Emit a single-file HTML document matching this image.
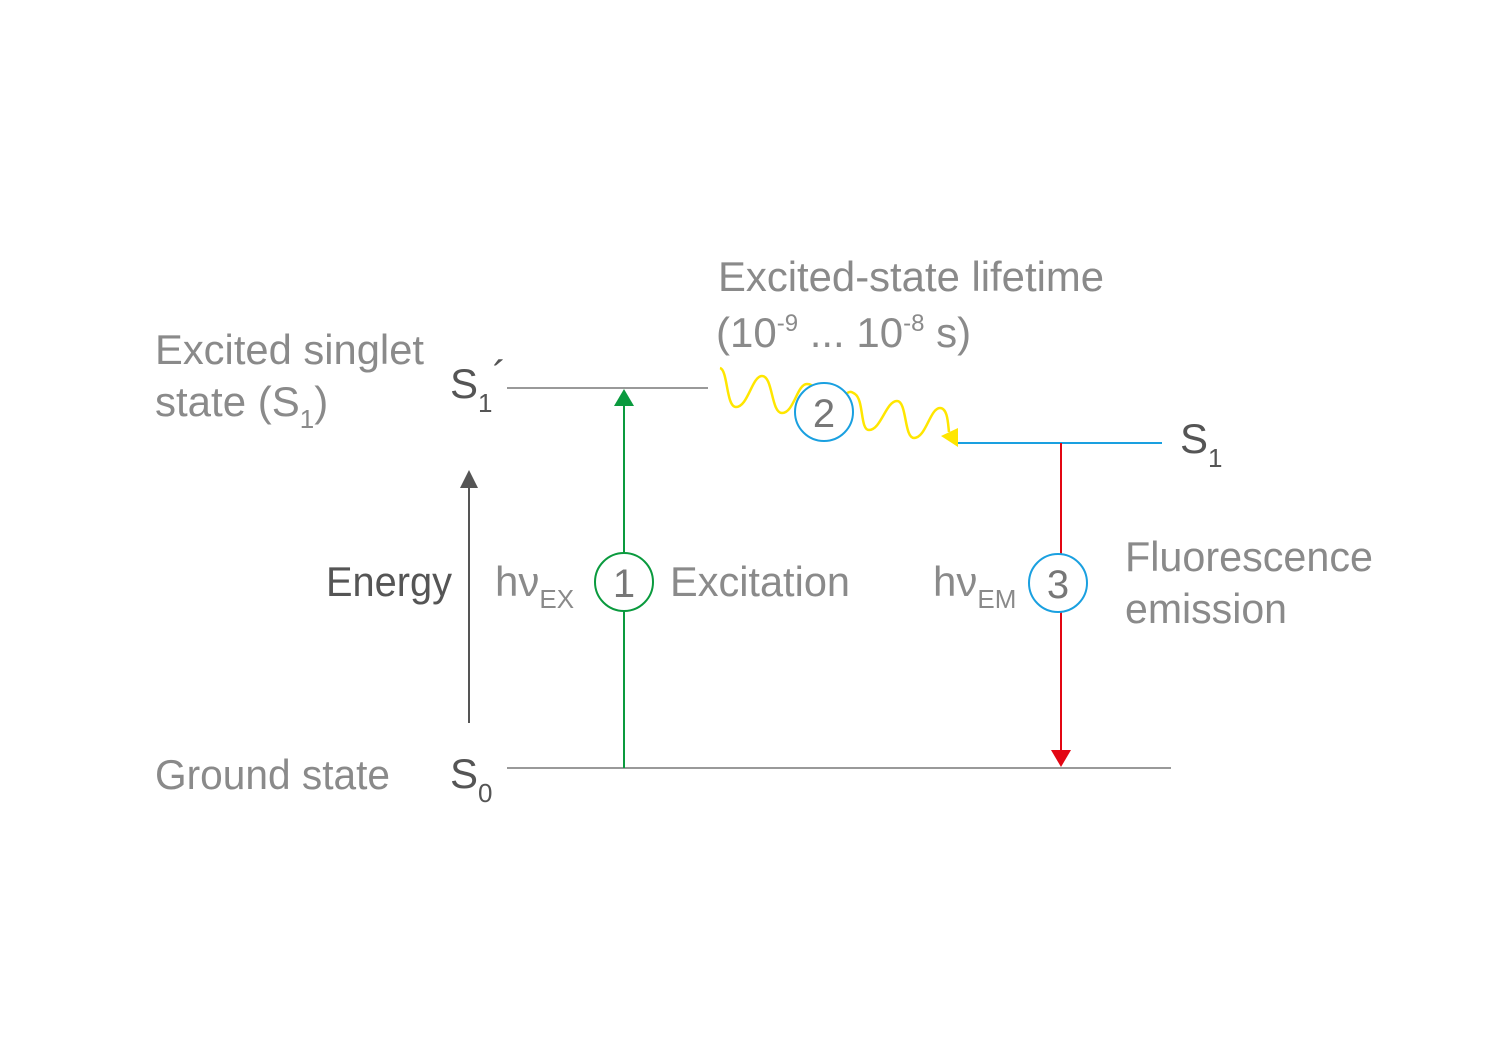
<!DOCTYPE html>
<html><head><meta charset="utf-8"><style>
html,body{margin:0;padding:0;background:#fff;}
svg{display:block}
text{font-family:"Liberation Sans Narrow","Liberation Sans",sans-serif;}
</style></head><body>
<svg width="1500" height="1060" viewBox="0 0 1500 1060" xmlns="http://www.w3.org/2000/svg">
<rect width="1500" height="1060" fill="#fff"/>
<line x1="507" y1="388" x2="708" y2="388" stroke="#999" stroke-width="2"/>
<line x1="507" y1="768" x2="1171" y2="768" stroke="#999" stroke-width="2"/>
<line x1="958" y1="443" x2="1162" y2="443" stroke="#1aa0e0" stroke-width="2"/>
<line x1="469" y1="723" x2="469" y2="485" stroke="#555" stroke-width="2"/>
<polygon points="469,470 460,488 478,488" fill="#555"/>
<line x1="624" y1="768" x2="624" y2="404" stroke="#0a9a3e" stroke-width="2"/>
<polygon points="624,389 614,406 634,406" fill="#0a9a3e"/>
<circle cx="624" cy="582" r="29" fill="#fff" stroke="#0a9a3e" stroke-width="2"/>
<text x="624" y="597" font-size="40" fill="#777" text-anchor="middle">1</text>
<line x1="1061" y1="443" x2="1061" y2="752" stroke="#e30613" stroke-width="2"/>
<polygon points="1061,767 1051,750 1071,750" fill="#e30613"/>
<circle cx="1058" cy="583" r="29" fill="#fff" stroke="#1aa0e0" stroke-width="2"/>
<text x="1058" y="598" font-size="40" fill="#777" text-anchor="middle">3</text>
<path d="M720,368 C728,370 726,407 736,407 C748,407 752,376 762,376 C773,376 771,413 782,413 C794,413 797,384 807,384 C818,384 816,400 820,405
M845,395 C850,390 852,392 855,394 C864,400 860,430 869,430 C881,430 886,401 897,401 C907,401 904,438 914,438 C926,438 930,408 940,408 C948,408 948,425 949,432" fill="none" stroke="#ffe600" stroke-width="2.5"/>
<polygon points="941,436 958,428 958,447" fill="#ffe600"/>
<circle cx="824" cy="412" r="29" fill="#fff" stroke="#1aa0e0" stroke-width="2"/>
<text x="824" y="427" font-size="40" fill="#777" text-anchor="middle">2</text>
<g font-size="42" fill="#8a8a8a">
<text x="155" y="364" textLength="269" lengthAdjust="spacingAndGlyphs">Excited singlet</text>
<text x="155" y="416">state (S<tspan font-size="26" dy="12">1</tspan><tspan dy="-12">)</tspan></text>
<text x="155" y="789" textLength="235" lengthAdjust="spacingAndGlyphs">Ground state</text>
<text x="718" y="291" textLength="386" lengthAdjust="spacingAndGlyphs">Excited-state lifetime</text>
<text x="716" y="347">(10<tspan font-size="24" dy="-16">-9</tspan><tspan dy="16"> ... 10</tspan><tspan font-size="24" dy="-16">-8</tspan><tspan dy="16"> s)</tspan></text>
<text x="670" y="596" textLength="180" lengthAdjust="spacingAndGlyphs">Excitation</text>
<text x="1125" y="571" textLength="248" lengthAdjust="spacingAndGlyphs">Fluorescence</text>
<text x="1125" y="623" textLength="162" lengthAdjust="spacingAndGlyphs">emission</text>
<text x="495" y="596">hν<tspan font-size="26" dy="12">EX</tspan></text>
<text x="933" y="596">hν<tspan font-size="26" dy="12">EM</tspan></text>
</g>
<g font-size="42" fill="#555">
<text x="326" y="596" textLength="126" lengthAdjust="spacingAndGlyphs">Energy</text>
<text x="450" y="398">S<tspan font-size="26" dy="14">1</tspan><tspan dy="-22">´</tspan></text>
<text x="450" y="788">S<tspan font-size="26" dy="14">0</tspan></text>
<text x="1180" y="453">S<tspan font-size="26" dy="14">1</tspan></text>
</g>
</svg>
</body></html>
